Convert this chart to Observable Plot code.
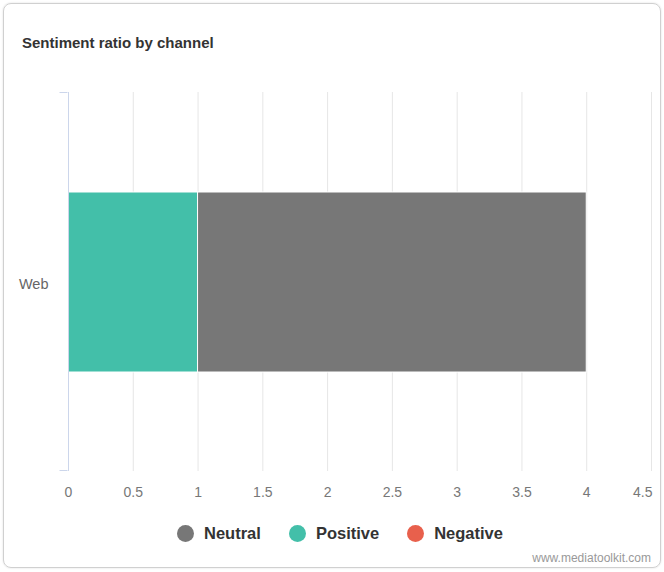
<!DOCTYPE html>
<html><head><meta charset="utf-8">
<script src="https://cdn.jsdelivr.net/npm/d3@7"></script>
<script src="https://cdn.jsdelivr.net/npm/@observablehq/plot@0.6"></script>
<style>
html,body{margin:0;padding:0;background:#fff;font-family:"Liberation Sans",Arial,sans-serif;}
#card{position:absolute;left:3px;top:3px;width:656px;height:563px;border:1px solid #d0d0d0;border-radius:8px;box-shadow:0 0 2px rgba(0,0,0,0.15);}
#title{position:absolute;left:22px;top:34px;font-size:15px;font-weight:bold;color:#333;}
#chart{position:absolute;left:0;top:70px;}
#legend{position:absolute;left:8px;top:524px;width:664px;display:flex;justify-content:center;font-size:16.5px;font-weight:bold;color:#333;}
.item{display:flex;align-items:center;margin:0 14px;}
.dot{width:17px;height:17px;border-radius:50%;margin-right:10px;}
#credit{position:absolute;right:13px;top:551px;font-size:12px;color:#999;}
</style></head>
<body>
<div id="card"></div>
<div id="title">Sentiment ratio by channel</div>
<div id="chart"></div>
<div id="legend"></div>
<div id="credit">www.mediatoolkit.com</div>
<script>
const channels = ["Web"];
const seriesNames = ["Neutral", "Positive", "Negative"];
const seriesColors = ["#777777", "#43bfa9", "#e8604c"];
const positiveValues = [1];
const neutralValues = [3];
const negativeValues = [0];
const xTicks = [0, 0.5, 1, 1.5, 2, 2.5, 3, 3.5, 4, 4.5];

// stacking order left-to-right: Positive, Neutral, Negative
const rows = [];
channels.forEach((c, i) => {
  rows.push({channel: c, series: "Positive", value: positiveValues[i]});
  rows.push({channel: c, series: "Neutral", value: neutralValues[i]});
  rows.push({channel: c, series: "Negative", value: negativeValues[i]});
});

const caps = (index, scales, values, dims) => {
  const g = d3.create("svg:g").attr("stroke", "#ccd6eb").attr("fill", "none");
  const x0 = scales.x(0) - 0.5;
  g.append("line").attr("x1", x0 - 8).attr("x2", x0).attr("y1", dims.marginTop + 0.5).attr("y2", dims.marginTop + 0.5);
  g.append("line").attr("x1", x0 - 8).attr("x2", x0).attr("y1", dims.height - dims.marginBottom - 0.5).attr("y2", dims.height - dims.marginBottom - 0.5);
  return g.node();
};

const lastTick = xTicks[xTicks.length - 1];
const chart = Plot.plot({
  width: 664,
  height: 440,
  marginLeft: 68,
  marginRight: 13,
  marginTop: 22,
  marginBottom: 39,
  style: {fontFamily: "Liberation Sans, Arial, sans-serif", fontSize: "13px", color: "#666"},
  x: {domain: [0, 4.5], ticks: xTicks, tickFormat: d => String(d), label: null},
  y: {domain: channels, padding: 0.356, label: null},
  color: {domain: seriesNames, range: seriesColors},
  marks: [
    Plot.gridX(xTicks.filter(d => d > 0), {stroke: "#e6e6e6", strokeOpacity: 1}),
    Plot.barX(rows, Plot.stackX({x: "value", y: "channel", fill: "series", order: ["Positive", "Neutral", "Negative"], stroke: "#fff", strokeWidth: 1})),
    Plot.ruleX([0], {stroke: "#ccd6eb"}),
    caps,
    Plot.axisX({ticks: xTicks.slice(0, -1), tickSize: 0, tickPadding: 16, fill: "#777", fontSize: 14, label: null, tickFormat: d => String(d)}),
    Plot.axisX({ticks: [lastTick], tickSize: 0, tickPadding: 16, fill: "#777", fontSize: 14, label: null, textAnchor: "end", dx: 1, tickFormat: d => String(d)}),
    Plot.axisY({tickSize: 0, tickPadding: 20, fill: "#666", fontSize: 14.5, label: null, dy: 2})
  ]
});
document.getElementById("chart").append(chart);

const legend = document.getElementById("legend");
seriesNames.forEach((n, i) => {
  const it = document.createElement("div"); it.className = "item";
  const d = document.createElement("div"); d.className = "dot"; d.style.background = seriesColors[i];
  const t = document.createElement("span"); t.textContent = n;
  it.append(d, t); legend.append(it);
});
</script>
</body></html>
